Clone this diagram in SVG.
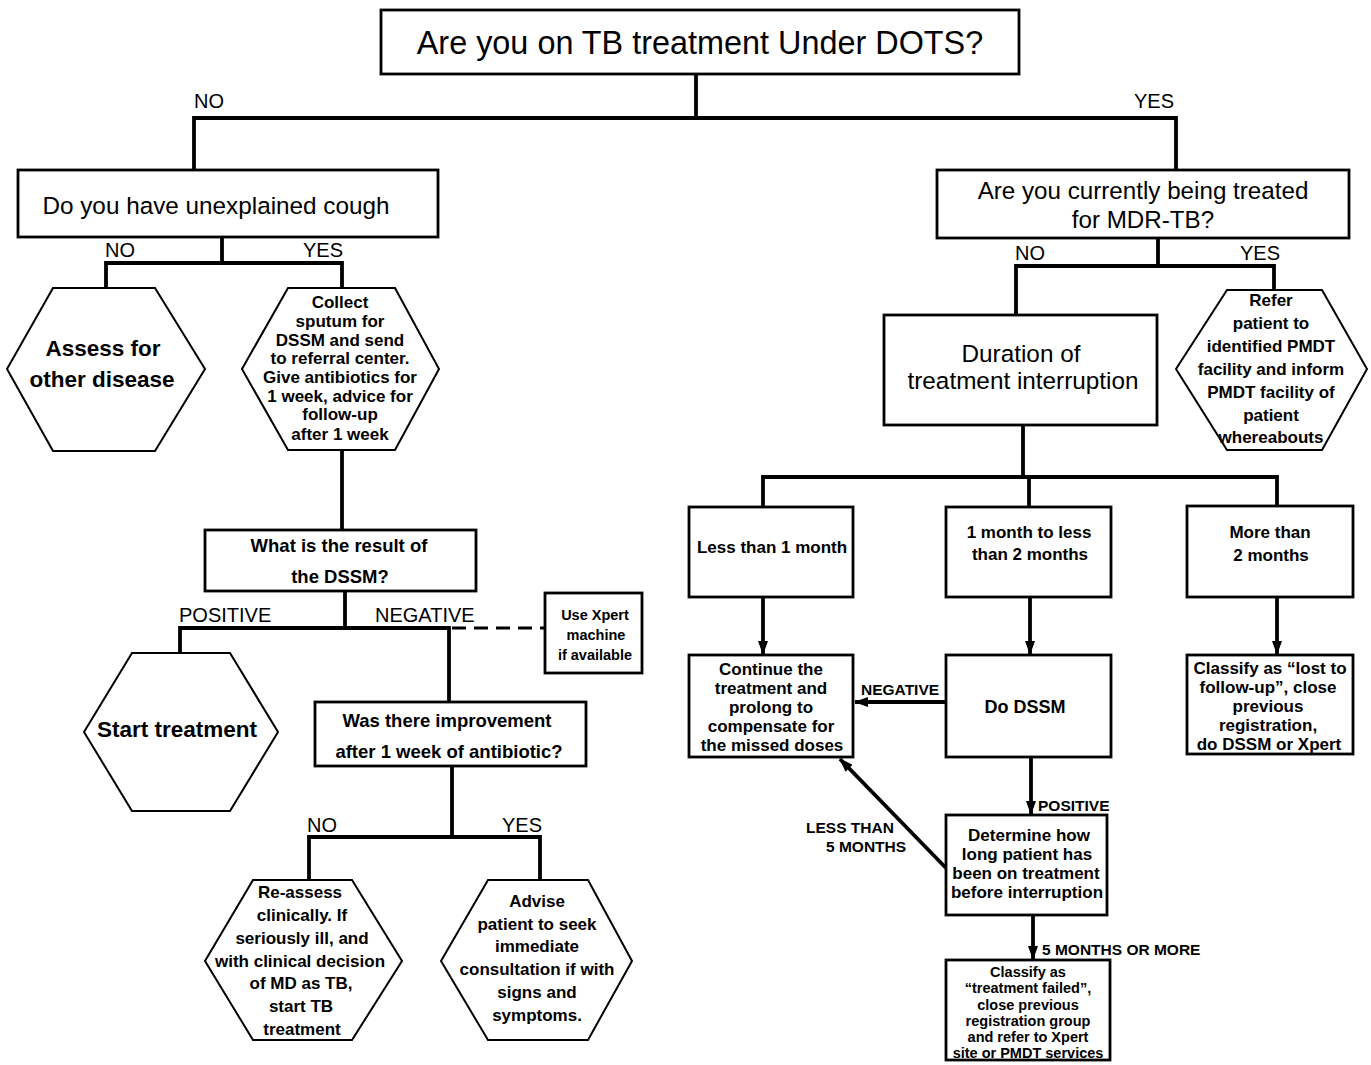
<svg xmlns="http://www.w3.org/2000/svg" width="1371" height="1065" viewBox="0 0 1371 1065">
<style>
text{font-family:"Liberation Sans",Arial,sans-serif;fill:#000;text-anchor:middle}
.box{fill:#fff;stroke:#000;stroke-width:2.8}
.hex{fill:#fff;stroke:#000;stroke-width:2}
.ln{fill:none;stroke:#000;stroke-width:3.8}
.arr{fill:none;stroke:#000;stroke-width:3.8;marker-end:url(#ah)}
.dash{fill:none;stroke:#000;stroke-width:3;stroke-dasharray:14 8}
.lbl{font-size:20px;text-anchor:start}
.sl{font-size:15.5px;font-weight:bold;text-anchor:start}
.b{font-weight:bold}
.s17{font-size:17px;font-weight:bold}
</style>
<defs>
<marker id="ah" markerWidth="14" markerHeight="10" refX="13" refY="5" orient="auto" markerUnits="userSpaceOnUse" viewBox="0 0 14 10">
<path d="M0,0 L14,5 L0,10 Z" fill="#000"/>
</marker>
</defs>
<rect width="1371" height="1065" fill="#fff"/>

<g id="connectors">
<path class="ln" d="M696,74 V118 M194,170 V118 H1176 V170"/>
<path class="ln" d="M222,237 V263 M106,288 V263 H342 V288"/>
<path class="ln" d="M342,450 V530"/>
<path class="ln" d="M345,591 V628 M180,653 V628 H449 V702"/>
<path class="dash" d="M452,628 H544"/>
<path class="ln" d="M452,766 V837 M309,880 V837 H540 V880"/>
<path class="ln" d="M1158,238 V266 M1016,315 V266 H1274 V290"/>
<path class="ln" d="M1023,425 V477 M763,507 V477 H1277 V506"/>
<path class="ln" d="M1029,477 V507"/>
<path class="arr" d="M763,597 V654"/>
<path class="arr" d="M1030,597 V654"/>
<path class="arr" d="M1277,597 V654"/>
<path class="arr" d="M946,702 H855"/>
<path class="arr" d="M1031,757 V814"/>
<path class="arr" d="M946,868 L840,759"/>
<path class="arr" d="M1033,915 V959"/>
<text class="lbl" x="194" y="108">NO</text>
<text class="lbl" x="1134" y="108">YES</text>
<text class="lbl" x="105" y="257">NO</text>
<text class="lbl" x="303" y="257">YES</text>
<text class="lbl" x="179" y="622">POSITIVE</text>
<text class="lbl" x="375" y="622">NEGATIVE</text>
<text class="lbl" x="307" y="832">NO</text>
<text class="lbl" x="502" y="832">YES</text>
<text class="lbl" x="1015" y="260">NO</text>
<text class="lbl" x="1240" y="260">YES</text>
<text class="sl" x="861" y="695">NEGATIVE</text>
<text class="sl" x="1038" y="811">POSITIVE</text>
<text class="sl" x="806" y="833">LESS THAN</text>
<text class="sl" x="826" y="852">5 MONTHS</text>
<text class="sl" x="1042" y="955">5 MONTHS OR MORE</text>
</g>

<g id="n-dots">
<rect class="box" x="381" y="10" width="638" height="64"/>
<text x="700" y="54" style="font-size:32.4px">Are you on TB treatment Under DOTS?</text>
</g>

<g id="n-cough">
<rect class="box" x="18" y="170" width="420" height="67"/>
<text x="216" y="214" style="font-size:24.3px">Do you have unexplained cough</text>
</g>

<g id="n-assess">
<polygon class="hex" points="53,288 155,288 205,369 155,451 53,451 7,369"/>
<text x="103" y="356" class="b" style="font-size:22.5px">Assess for</text>
<text x="102" y="387" class="b" style="font-size:22.5px">other disease</text>
</g>

<g id="n-collect">
<polygon class="hex" points="288,288 395,288 439,369 395,450 288,450 242,369"/>
<g class="s17">
<text x="340" y="308">Collect</text>
<text x="340" y="327">sputum for</text>
<text x="340" y="346">DSSM and send</text>
<text x="340" y="364">to referral center.</text>
<text x="340" y="383">Give antibiotics for</text>
<text x="340" y="402">1 week, advice for</text>
<text x="340" y="420">follow-up</text>
<text x="340" y="440">after 1 week</text>
</g>
</g>

<g id="n-result">
<rect class="box" x="205" y="530" width="271" height="61"/>
<text x="339" y="552" class="b" style="font-size:18.5px">What is the result of</text>
<text x="340" y="583" class="b" style="font-size:18.5px">the DSSM?</text>
</g>

<g id="n-xpert">
<rect class="box" x="545" y="593" width="97" height="80"/>
<g class="b" style="font-size:14.5px">
<text x="595" y="620">Use Xpert</text>
<text x="596" y="640">machine</text>
<text x="595" y="660">if available</text>
</g>
</g>

<g id="n-start">
<polygon class="hex" points="132,653 230,653 278,732 230,811 132,811 84,732"/>
<text x="177" y="737" class="b" style="font-size:22.5px">Start treatment</text>
</g>

<g id="n-improve">
<rect class="box" x="315" y="702" width="271" height="64"/>
<text x="447" y="727" class="b" style="font-size:18.5px">Was there improvement</text>
<text x="449" y="758" class="b" style="font-size:18.5px">after 1 week of antibiotic?</text>
</g>

<g id="n-reassess">
<polygon class="hex" points="253,880 352,880 402,961 352,1040 253,1040 205,961"/>
<g class="s17">
<text x="300" y="898">Re-assess</text>
<text x="302" y="921">clinically. If</text>
<text x="302" y="944">seriously ill, and</text>
<text x="300" y="967">with clinical decision</text>
<text x="301" y="989">of MD as TB,</text>
<text x="301" y="1012">start TB</text>
<text x="302" y="1035">treatment</text>
</g>
</g>

<g id="n-advise">
<polygon class="hex" points="488,880 588,880 632,961 588,1040 488,1040 441,961"/>
<g class="s17">
<text x="537" y="907">Advise</text>
<text x="537" y="930">patient to seek</text>
<text x="537" y="952">immediate</text>
<text x="537" y="975">consultation if with</text>
<text x="537" y="998">signs and</text>
<text x="537" y="1021">symptoms.</text>
</g>
</g>

<g id="n-mdr">
<rect class="box" x="937" y="170" width="412" height="68"/>
<text x="1143" y="199" style="font-size:24.2px">Are you currently being treated</text>
<text x="1143" y="228" style="font-size:24.2px">for MDR-TB?</text>
</g>

<g id="n-duration">
<rect class="box" x="884" y="315" width="273" height="110"/>
<text x="1021" y="362" style="font-size:24.3px">Duration of</text>
<text x="1023" y="389" style="font-size:24.3px">treatment interruption</text>
</g>

<g id="n-refer">
<polygon class="hex" points="1227,290 1322,290 1367,369 1322,450 1227,450 1176,369"/>
<g class="s17">
<text x="1271" y="306">Refer</text>
<text x="1271" y="329">patient to</text>
<text x="1271" y="352">identified PMDT</text>
<text x="1271" y="375">facility and inform</text>
<text x="1271" y="398">PMDT facility of</text>
<text x="1271" y="421">patient</text>
<text x="1271" y="443">whereabouts</text>
</g>
</g>

<g id="n-less1">
<rect class="box" x="689" y="507" width="164" height="90"/>
<text x="772" y="553" class="s17">Less than 1 month</text>
</g>

<g id="n-1to2">
<rect class="box" x="946" y="507" width="165" height="90"/>
<text x="1029" y="538" class="s17">1 month to less</text>
<text x="1030" y="560" class="s17">than 2 months</text>
</g>

<g id="n-more2">
<rect class="box" x="1187" y="506" width="166" height="91"/>
<text x="1270" y="538" class="s17">More than</text>
<text x="1271" y="561" class="s17">2 months</text>
</g>

<g id="n-continue">
<rect class="box" x="689" y="655" width="164" height="102"/>
<g class="s17">
<text x="771" y="675">Continue the</text>
<text x="771" y="694">treatment and</text>
<text x="771" y="713">prolong to</text>
<text x="771" y="732">compensate for</text>
<text x="772" y="751">the missed doses</text>
</g>
</g>

<g id="n-dodssm">
<rect class="box" x="946" y="655" width="165" height="102"/>
<text x="1025" y="713" class="b" style="font-size:18px">Do DSSM</text>
</g>

<g id="n-lost">
<rect class="box" x="1187" y="655" width="166" height="99"/>
<g class="s17">
<text x="1270" y="674">Classify as “lost to</text>
<text x="1268" y="693">follow-up”, close</text>
<text x="1268" y="712">previous</text>
<text x="1268" y="731">registration,</text>
<text x="1269" y="750">do DSSM or Xpert</text>
</g>
</g>

<g id="n-determine">
<rect class="box" x="946" y="815" width="161" height="100"/>
<g class="s17">
<text x="1029" y="841">Determine how</text>
<text x="1027" y="860">long patient has</text>
<text x="1026" y="879">been on treatment</text>
<text x="1027" y="898">before interruption</text>
</g>
</g>

<g id="n-failed">
<rect class="box" x="946" y="960" width="164" height="100"/>
<g class="b" style="font-size:14.5px">
<text x="1028" y="977">Classify as</text>
<text x="1028" y="993">“treatment failed”,</text>
<text x="1028" y="1010">close previous</text>
<text x="1028" y="1026">registration group</text>
<text x="1028" y="1042">and refer to Xpert</text>
<text x="1028" y="1058">site or PMDT services</text>
</g>
</g>
</svg>
